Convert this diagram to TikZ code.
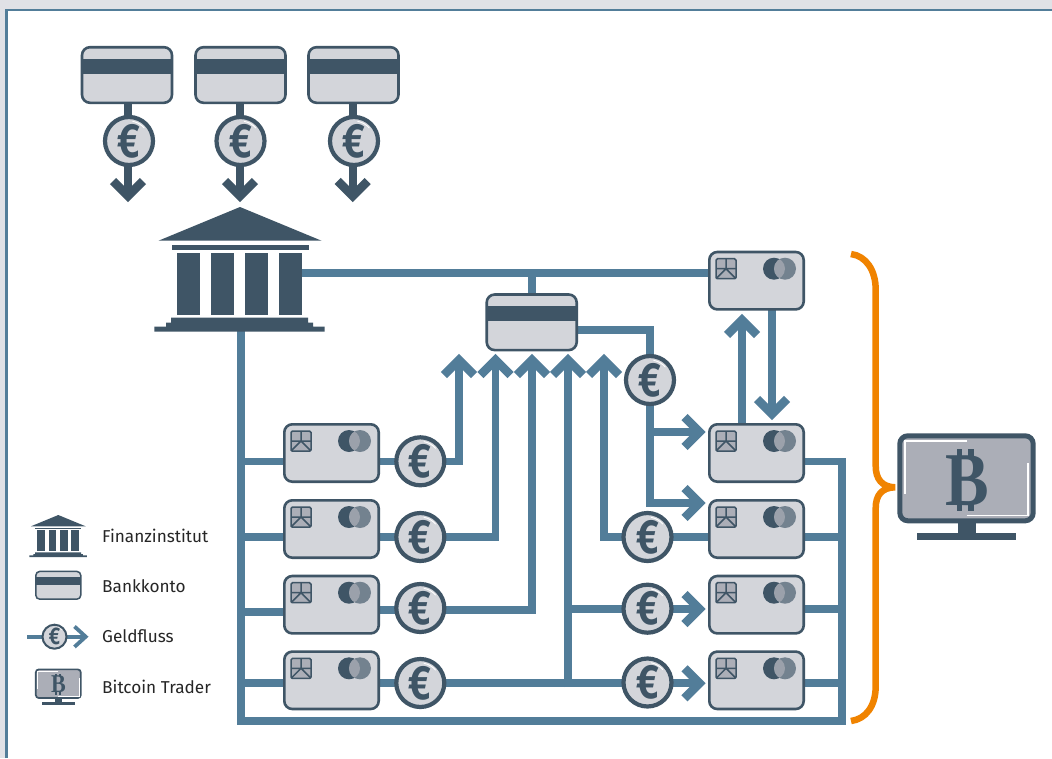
\documentclass[tikz,border=0pt]{standalone}
\usepackage{fontspec}
\setmainfont{Fira Sans}
\newfontfamily\serifb{Liberation Serif}
\definecolor{dk}{HTML}{3F5566}
\definecolor{bl}{HTML}{527D99}
\definecolor{lg}{HTML}{D3D5DA}
\definecolor{mg}{HTML}{ABAEB7}
\definecolor{fr}{HTML}{E0E1E6}
\definecolor{or}{HTML}{F08300}
\def\cw{2.6pt}\def\cr{8pt}\def\ew{4.2pt}\def\ef{48}\def\hl{.9pt}\def\bfs{76}\def\mw{5pt}\def\ml{1.3pt}
\tikzset{
 flow/.style={draw=bl,line width=7.8pt},
 flowd/.style={draw=dk,line width=7.8pt},
 tip/.style={draw=bl,line width=8.6pt,miter limit=10},
 tipd/.style={draw=dk,line width=8.6pt,miter limit=10},
 lab/.style={anchor=west,font=\fontsize{17.2}{20}\selectfont,text=black!85,inner sep=0pt},
 pics/account/.style={code={
  \draw[dk,line width=\cw,fill=lg,rounded corners=\cr] (-45,-27.8) rectangle (45,27.8);
  \fill[dk] (-46.2,-16) rectangle (46.2,-1);
 }},
 pics/credit/.style={code={
  \draw[dk,line width=\cw,fill=lg,rounded corners=\cr] (-47.2,-28.7) rectangle (47.2,28.7);
  \begin{scope}[shift={(-30.5,-12)}]
   \draw[dk,line width=1.5pt,fill=mg,rounded corners=1.5pt] (-10,-10) rectangle (10,10);
   \draw[dk,line width=1.5pt] (-10,0)--(10,0) (0,-10)--(0,0)--(-10,10) (0,0)--(10,10);
  \end{scope}
  \fill[dk] (17.5,-12) circle (11);
  \fill[dk!65!lg] (28.5,-12) circle (11);
  \begin{scope}\clip (17.5,-12) circle (11); \fill[mg!85!dk] (28.5,-12) circle (11);\end{scope}
 }},
 pics/coin/.style={code={
  \draw[dk,line width=\ew,fill=lg] (0,0) circle (24);
  \draw[white,line width=\hl] (3.5,-19.7) arc (-80:-40:20);
  \node[inner sep=0pt,text=dk,font=\fontsize{\ef}{\ef}\selectfont\bfseries] at (0,0) {\scalebox{.8}[1]{€}};
 }},
 pics/bank/.style={code={
  \fill[dk] (-81.5,33.7) -- (0,0) -- (81.5,33.7) -- cycle;
  \fill[dk] (-68.5,38) rectangle (68.5,43);
  \foreach \x in {-63,-29,5,39} \fill[dk] (\x,45.7) rectangle (\x+23,108);
  \fill[dk] (-69,110.7) -- (68,110.7) -- (68,115.7) -- (73,115.7) -- (73,119.7) -- (84.7,119.7) -- (84.7,124.7) -- (-85.7,124.7) -- (-85.7,119.7) -- (-74,119.7) -- (-74,115.7) -- (-69,115.7) -- cycle;
 }},
 pics/monitor/.style={code={
  \fill[dk] (-8.5,42) rectangle (9.5,56);
  \fill[dk] (-49.5,54.7) rectangle (49.5,61.7);
  \draw[dk,line width=\mw,fill=mg,rounded corners=\cr] (-66.7,-42.5) rectangle (66.7,42.5);
  \draw[white,line width=\ml] (0.5,-37.3) -- (-61.5,-37.3) -- (-61.5,15.7);
  \draw[white,line width=\ml] (0,37.4) -- (61.5,37.4) -- (61.5,-15.6);
  \node[text=dk,inner sep=0pt,font=\serifb\bfseries\fontsize{\bfs}{\bfs}\selectfont] at (0.5,2) {\scalebox{.86}[1]{B}};
  \foreach \x in {-9.8,1.8} {\fill[dk] (\x,-29) rectangle (\x+5.6,-21.5); \fill[dk] (\x,26) rectangle (\x+5.6,32.7);}
 }},
}
\begin{document}
\begin{tikzpicture}[x=1pt,y=-1pt]
\useasboundingbox (0,0) rectangle (1052,758);
\fill[fr] (0,0) rectangle (1052,758);
\fill[white] (6,10) rectangle (1052,758);
\draw[bl,line width=2.7pt] (6.3,758) -- (6.3,10) -- (1052,10);
% connectors
\draw[flow] (300,272.7) -- (710,272.7);
\draw[flow] (531.7,272.7) -- (531.7,296);
\draw[flow] (241,328) -- (241,721) -- (841.7,721) -- (841.7,461.5) -- (800,461.5);
\foreach \y in {461.5,537.3,612,683} \draw[flow] (241,\y) -- (285,\y);
\foreach \y in {537.3,609,683.3} \draw[flow] (800,\y) -- (841.7,\y);
\draw[flow] (380,461.5) -- (459,461.5) -- (459,362);
\draw[flow] (380,537.3) -- (495.5,537.3) -- (495.5,362);
\draw[flow] (380,610) -- (532,610) -- (532,362);
\draw[flow] (380,683.3) -- (699,683.3);
\draw[flow] (568,687) -- (568,362);
\draw[flow] (568,609) -- (699,609);
\draw[flow] (708,537.3) -- (604,537.3) -- (604,362);
\draw[flow] (578,329.7) -- (650,329.7) -- (650,503) -- (699,503);
\draw[flow] (650,432) -- (699,432);
\draw[flow] (742,425) -- (742,325);
\draw[flow] (772,310) -- (772,410);
\foreach \x in {459,495.5,532,568,604} \draw[tip] (\x-15,375) -- (\x,360) -- (\x+15,375);
\draw[tip] (727,335) -- (742,320) -- (757,335);
\draw[tip] (757,399) -- (772,414) -- (787,399);
\foreach \y in {432,503,609,683.3} \draw[tip] (684.5,\y-15) -- (699.5,\y) -- (684.5,\y+15);
% top
\foreach \x/\c/\k in {128/127/129,240/240.5/240.5,352.7/353.5/354} {
 \draw[flowd] (\x,100) -- (\x,192);
 \draw[tipd] (\x-15,181) -- (\x,196) -- (\x+15,181);
 \pic at (\c,75) {account};
 \pic at (\k,141) {coin};
}
\pic at (240,207) {bank};
\pic at (531.7,322.3) {account};
\pic at (650,380) {coin};
\foreach \y in {453,529,604.7,680.3} {\pic at (331.5,\y) {credit};}
\foreach \y in {280.7,453,529,604.7,680.3} {\pic at (756.5,\y) {credit};}
\foreach \p in {(420.3,461.3),(420.3,537),(420.3,608),(420.3,683),(647.5,537),(647.5,608.7),(647.5,682.5)} \pic at \p {coin};
% brace
\draw[or,line width=6.5pt] (851,254) .. controls (866,256) and (875.7,270) .. (875.7,290) -- (875.7,466) .. controls (875.7,479) and (882,487) .. (895,487.3) .. controls (882,487.6) and (875.7,495) .. (875.7,508) -- (875.7,686) .. controls (875.7,706) and (866,719) .. (851,721);
% monitor
\pic at (966.5,478.3) {monitor};
% legend
\pic[scale=.337] at (58.3,515) {bank};
\begin{scope}
 \def\cw{1.5pt}\def\cr{4pt}
 \pic[scale=.5] at (58.3,585.3) {account};
\end{scope}
\draw[draw=bl,line width=3.6pt] (27,636.7) -- (85,636.7);
\draw[draw=bl,line width=3.8pt,miter limit=10] (74.5,626.5) -- (85.7,636.7) -- (74.5,646.9);
\begin{scope}
 \def\ew{2pt}\def\ef{24}\def\hl{.4pt}
 \pic[scale=.5] at (54.5,636.7) {coin};
\end{scope}
\begin{scope}
 \def\cr{3pt}\def\mw{1.7pt}\def\bfs{25.6}\def\ml{.5pt}
 \pic[scale=.337] at (58.3,683.7) {monitor};
\end{scope}
\node[lab] (l1) at (102,536) {Finanzinstitut};
\node[lab] (l2) at (102,586) {Bankkonto};
\node[lab] (l3) at (102,636) {Geldfluss};
\node[lab] (l4) at (102,687) {Bitcoin Trader};
\end{tikzpicture}
\end{document}
